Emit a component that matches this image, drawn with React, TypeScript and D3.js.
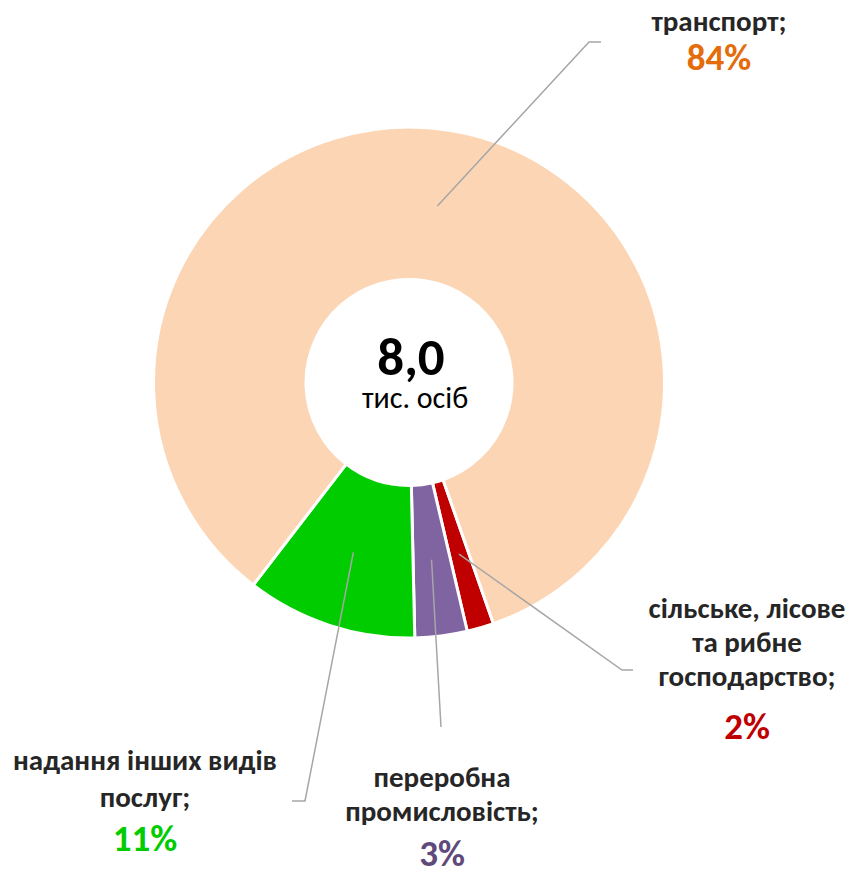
import { arc, pie } from "d3";

// data (percent shares of 8,0 thousand persons)
const categories = ["сільське, лісове та рибне господарство", "переробна промисловість", "надання інших видів послуг", "транспорт"];
const shares = [1.7, 3.3, 10.8, 84.2];
const shownPct = ["2%", "3%", "11%", "84%"];
const labelLines = [
    ["сільське, лісове", "та рибне", "господарство;"],
    ["переробна", "промисловість;"],
    ["надання інших видів", "послуг;"],
    ["транспорт;"],
];
const sliceColors = ["#C00000", "#8064A2", "#00CC00", "#FCD5B5"];
const pctColors = ["#C00000", "#604A7B", "#00CC00", "#E46C0A"];
const totalValue = "8,0";
const totalUnit = "тис. осіб";

const W = 850;
const H = 873;
const cx = 409;
const cy = 382.5;
const outerR = 255.5;
const innerR = 103;
const startDeg = 160.7;
const FONT = "Carlito, Calibri, 'Open Sans', sans-serif";

// label layout: centre x, baseline of first line, line step, percent baseline, leader elbow + end
const labelLayout = [
    { x: 747, y: 618, step: 34, pctY: 739, elbow: [622, 670], end: [633, 670] },
    { x: 442, y: 787, step: 34, pctY: 866, elbow: [441, 727], end: [441, 727] },
    { x: 145, y: 770, step: 37, pctY: 851, elbow: [305, 801], end: [292, 801] },
    { x: 719, y: 31, step: 34, pctY: 70, elbow: [589, 42], end: [601, 42] },
];

export default function App() {
    const arcs = pie<number>()
        .sort(null)
        .startAngle((startDeg * Math.PI) / 180)
        .endAngle((startDeg * Math.PI) / 180 + 2 * Math.PI)(shares);

    const arcGen = arc<any>().innerRadius(innerR).outerRadius(outerR);
    const midR = (outerR + innerR) / 2 - 0.5;
    const leaderArc = arc<any>().innerRadius(midR).outerRadius(midR);

    return (
        <svg width={W} height={H} style={{ position: "absolute", left: 0, top: 0, background: "#fff" }} fontFamily={FONT}>
            <g transform={`translate(${cx},${cy})`}>
                {arcs.map((a, i) => (
                    <path key={categories[i]} d={arcGen(a) as string} fill={sliceColors[i]} stroke="#fff" strokeWidth={3} />
                ))}
            </g>

            {/* leader lines */}
            {arcs.map((a, i) => {
                const [px, py] = leaderArc.centroid(a);
                const l = labelLayout[i];
                return (
                    <polyline
                        key={"l" + i}
                        points={`${cx + px},${cy + py} ${l.elbow[0]},${l.elbow[1]} ${l.end[0]},${l.end[1]}`}
                        fill="none"
                        stroke="#A6A6A6"
                        strokeWidth={1.5}
                    />
                );
            })}

            {/* labels */}
            {labelLines.map((lines, i) => {
                const l = labelLayout[i];
                return (
                    <g key={"t" + i} textAnchor="middle">
                        {lines.map((s, j) => (
                            <text key={j} x={l.x} y={l.y + j * l.step} fontSize={29} fontWeight="bold" fill="#262626">
                                {s}
                            </text>
                        ))}
                        <text x={l.x} y={l.pctY} fontSize={37} fontWeight="bold" fill={pctColors[i]}>
                            {shownPct[i]}
                        </text>
                    </g>
                );
            })}

            {/* centre */}
            <text x={411} y={375} textAnchor="middle" fontSize={53} fontWeight="bold" fill="#000">
                {totalValue}
            </text>
            <text x={415} y={408} textAnchor="middle" fontSize={30} fill="#000">
                {totalUnit}
            </text>
        </svg>
    );
}
